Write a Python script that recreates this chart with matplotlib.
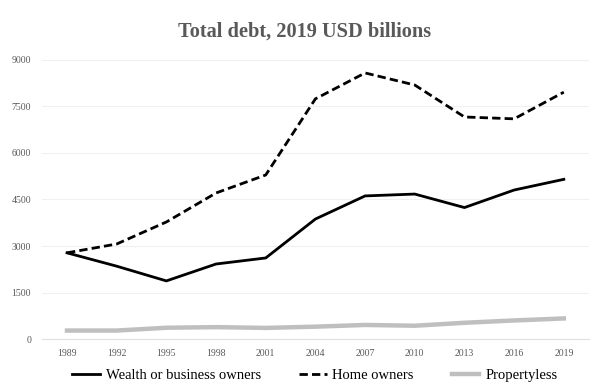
import numpy as np
import matplotlib.pyplot as plt

years = ['1989', '1992', '1995', '1998', '2001', '2004', '2007', '2010', '2013', '2016', '2019']
wealth_owners = [2780, 2350, 1875, 2420, 2615, 3870, 4615, 4675, 4240, 4805, 5150]
home_owners = [2780, 3065, 3775, 4710, 5290, 7745, 8580, 8190, 7160, 7100, 7960]
propertyless = [275, 275, 365, 385, 360, 400, 455, 430, 525, 600, 665]

plt.rcParams['font.family'] = ['Liberation Serif', 'DejaVu Serif']

fig = plt.figure(figsize=(5.94, 3.84), dpi=100)
ax = fig.add_axes([0.071, 0.117, 0.92, 0.727])

x = np.arange(len(years))
ax.plot(x, wealth_owners, color='black', lw=2, label='Wealth or business owners')
ax.plot(x, home_owners, color='black', lw=2, ls=(0, (3, 1.5)), label='Home owners')
ax.plot(x, propertyless, color='#bfbfbf', lw=3.2, label='Propertyless')

ax.set_xlim(-0.5, len(years) - 0.5)
ax.set_ylim(0, 9000)
ax.set_yticks(np.arange(0, 9001, 1500))
ax.set_xticks(x)
ax.set_xticklabels(years)
ax.tick_params(axis='both', length=0, labelsize=7, labelcolor='#595959')
ax.tick_params(axis='x', pad=7)
ax.tick_params(axis='y', pad=8)
ax.grid(axis='y', color='#f0f0f0', lw=0.8)
ax.set_axisbelow(True)
for s in ['top', 'right', 'left']:
    ax.spines[s].set_visible(False)
ax.spines['bottom'].set_color('#e0e0e0')

fig.suptitle('Total debt, 2019 USD billions', x=0.512, y=0.945, fontsize=14.7, fontweight='bold', color='#595959')
fig.legend(loc='center', ncol=3, frameon=False, fontsize=10.5, bbox_to_anchor=(0.53, 0.022),
           handlelength=1.9, columnspacing=2.6, handletextpad=0.4, borderpad=0)

plt.savefig('out.png', dpi=100)
